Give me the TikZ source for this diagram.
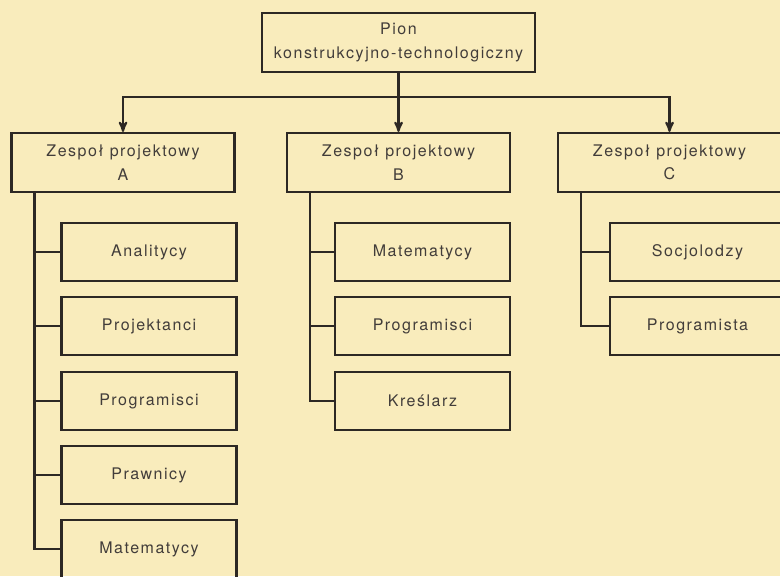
\documentclass[tikz,border=0pt]{standalone}
\usepackage{fontspec}
\setmainfont{TeX Gyre Heros}[LetterSpace=9.5]
\usetikzlibrary{arrows}

\definecolor{paper}{RGB}{249,236,188}
\definecolor{ink}{RGB}{45,40,36}

\begin{document}
\begin{tikzpicture}[x=0.75pt,y=-0.75pt,line width=1.6pt,draw=ink,
    box/.style={draw,inner sep=0pt,align=center,text=ink!90,
        font=\fontsize{12pt}{17.5pt}\selectfont},
    head/.style={box,minimum width=204.75pt,minimum height=44.25pt},
    team/.style={box,minimum width=167.25pt,minimum height=44.25pt},
    group/.style={box,minimum width=131.25pt,minimum height=43.5pt}]
\clip (0,0) rectangle (780,576);
\fill[paper] (0,0) rectangle (780,576);

\node[head] (pion) at (398.5,42.5) {Pion\\konstrukcyjno-technologiczny};
\node[team] (zA) at (123,162.5) {Zespoł\hspace{.4em}projektowy\\A};
\node[team] (zB) at (398.5,162.5) {Zespoł\hspace{.4em}projektowy\\B};
\node[team] (zC) at (669.5,162.5) {Zespoł\hspace{.4em}projektowy\\C};

\coordinate (bus) at (398.5,97);
\draw[->,>=stealth'] (pion) -- (zB);
\draw[->,>=stealth'] (bus) -| (zA);
\draw[->,>=stealth'] (bus) -| (zC);

\node[group] (a1) at (149,252) {Analitycy};
\node[group] (a2) at (149,326) {Projektanci};
\node[group] (a3) at (149,401) {Programisci};
\node[group] (a4) at (149,475) {Prawnicy};
\node[group] (a5) at (149,549) {Matematycy};

\node[group] (b1) at (422.5,252) {Matematycy};
\node[group] (b2) at (422.5,326) {Programisci};
\node[group] (b3) at (422.5,401) {Kreślarz};

\node[group] (c1) at (697.5,252) {Socjolodzy};
\node[group] (c2) at (697.5,326) {Programista};

\foreach \i in {1,...,5} \draw ([xshift=18pt]zA.south west) |- (a\i.west);
\foreach \i in {1,2,3} \draw ([xshift=18pt]zB.south west) |- (b\i.west);
\foreach \i in {1,2} \draw ([xshift=18pt]zC.south west) |- (c\i.west);

\end{tikzpicture}
\end{document}
